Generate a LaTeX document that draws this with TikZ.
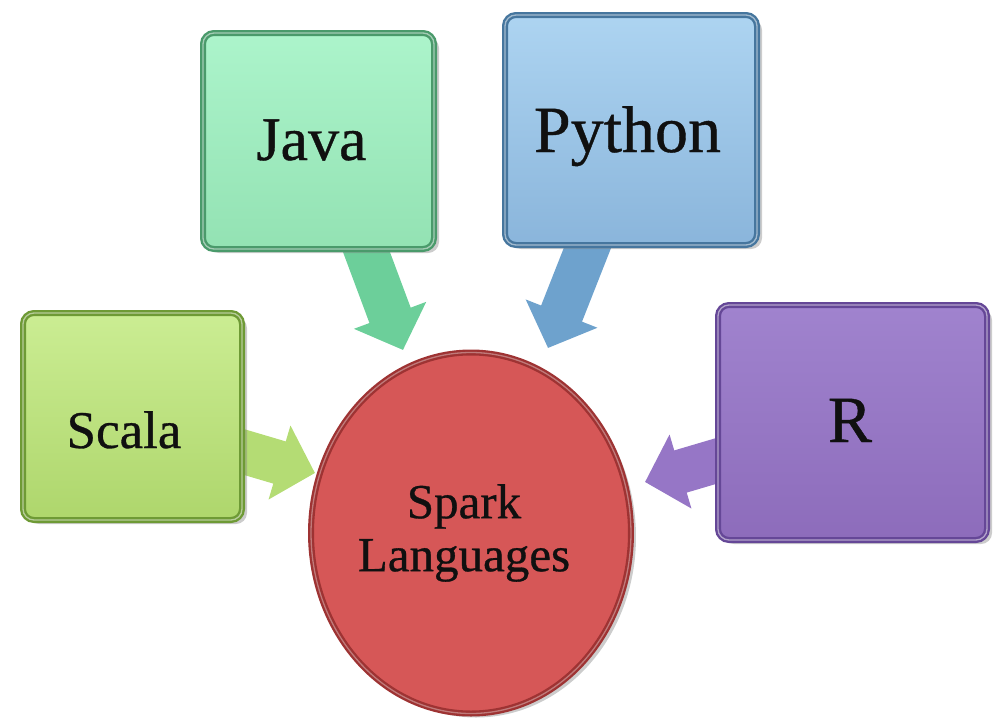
\documentclass[tikz,border=0pt]{standalone}
\usepackage{fontspec}
\setmainfont{Liberation Serif}[FakeBold=0.6]
\usetikzlibrary{arrows.meta,shadows,shapes.geometric}
\definecolor{javaB}{HTML}{4A9A6B}\definecolor{javaT}{HTML}{ACF4CB}\definecolor{javaD}{HTML}{93E2B3}\definecolor{javaA}{HTML}{6CCF9A}
\definecolor{pyB}{HTML}{46769E}\definecolor{pyT}{HTML}{ADD4F1}\definecolor{pyD}{HTML}{8AB5DB}\definecolor{pyA}{HTML}{6EA2CD}
\definecolor{scB}{HTML}{6E9A35}\definecolor{scT}{HTML}{CBED93}\definecolor{scD}{HTML}{AED66C}\definecolor{scA}{HTML}{B4DC74}
\definecolor{rB}{HTML}{654797}\definecolor{rT}{HTML}{A083CE}\definecolor{rD}{HTML}{8D6CBB}\definecolor{rA}{HTML}{9676C6}
\definecolor{spB}{HTML}{9E3333}\definecolor{spF}{HTML}{D65757}\definecolor{ink}{HTML}{101010}
\begin{document}
\begin{tikzpicture}[x=1pt,y=-1pt,
  langbox/.style n args={3}{rectangle, rounded corners=11pt, draw=#1, line width=6pt,
    top color=#2, bottom color=#3,
    drop shadow={shadow xshift=5pt, shadow yshift=-4pt, opacity=0.4},
    postaction={draw=white, draw opacity=0.5, line width=1.3pt},
    inner sep=0pt, text depth=0pt, text=ink},
  flow/.style={line width=44pt, draw=#1, -{Triangle[width=75pt,length=37pt,fill=#1]}}
]
\useasboundingbox (0,0) rectangle (1005,718);
% connector end points
\coordinate (jS) at (350.6,209.5); \coordinate (jE) at (403,350);
\coordinate (pS) at (603,208.5);   \coordinate (pE) at (548,348);
\coordinate (sS) at (200,439);     \coordinate (sE) at (315,473);
\coordinate (rS) at (760,448);     \coordinate (rE) at (645,482);
% block arrows
\draw[flow=javaA] (jS) -- (jE);
\draw[flow=pyA] (pS) -- (pE);
\draw[flow=scA] (sS) -- (sE);
\draw[flow=rA] (rS) -- (rE);
% boxes
\node[langbox={javaB}{javaT}{javaD}, minimum width=231pt, minimum height=216pt, text height=38pt,
  font=\fontsize{62}{62}\selectfont] (java) at (318.5,141) {Java\kern14pt};
\node[langbox={pyB}{pyT}{pyD}, minimum width=252pt, minimum height=230pt, text height=44pt,
  font=\fontsize{66}{66}\selectfont] (python) at (631,130) {Python\kern7pt};
\node[langbox={scB}{scT}{scD}, minimum width=219pt, minimum height=207pt, text height=63pt,
  font=\fontsize{53}{53}\selectfont] (scala) at (132.5,416.5) {Scala\kern17pt};
\node[langbox={rB}{rT}{rD}, minimum width=269pt, minimum height=235pt, text height=39pt,
  font=\fontsize{66}{66}\selectfont] (r) at (852.5,422.5) {R\kern5pt};
% centre
\node[ellipse, minimum width=307pt, minimum height=361pt, draw=spB, line width=6pt, fill=spF,
  drop shadow={shadow xshift=5pt, shadow yshift=-4pt, opacity=0.4},
  postaction={draw=white, draw opacity=0.35, line width=1.3pt},
  inner sep=0pt, align=center, text=ink, font=\fontsize{49}{53}\selectfont] (spark) at (471,533)
  {Spark\kern14pt\\Languages\kern14pt};
\end{tikzpicture}
\end{document}
